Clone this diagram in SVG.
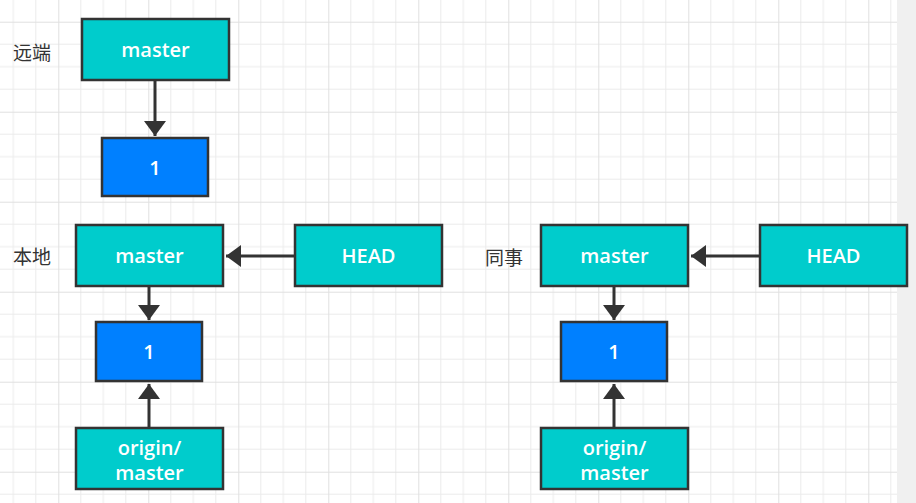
<svg xmlns="http://www.w3.org/2000/svg" width="916" height="503" viewBox="0 0 916 503">
<defs>
<pattern id="grid" x="58.3" y="21.7" width="90" height="90" patternUnits="userSpaceOnUse">
<path d="M22.5 0V90M45 0V90M67.5 0V90M0 22.5H90M0 45H90M0 67.5H90" stroke="#ebebeb" stroke-width="1" fill="none"/>
<path d="M0.5 0V90M0 0.5H90" stroke="#e0e0e0" stroke-width="1" fill="none"/>
</pattern>
<marker id="ah" viewBox="0 0 15 22" refX="15" refY="11" markerWidth="15" markerHeight="22" markerUnits="userSpaceOnUse" orient="auto">
<path d="M0 0L15 11L0 22Z" fill="#333"/>
</marker>
</defs>
<style>
.n{stroke:#333;stroke-width:2.5}
.c{fill:#00CCCC}
.b{fill:#0080FF}
.t{fill:#fff;font-family:"Open Sans","Noto Sans CJK SC",sans-serif;font-size:20px;font-weight:600;text-anchor:middle;dominant-baseline:central}
.l{fill:#333;font-family:"Noto Sans CJK SC",sans-serif;font-size:19px;dominant-baseline:central}
.e{stroke:#333;stroke-width:3;fill:none;marker-end:url(#ah)}
</style>
<rect width="916" height="503" fill="#fff"/>
<rect width="897" height="503" fill="url(#grid)"/>
<rect x="897" y="0" width="19" height="503" fill="#f0f0f0"/>
<text class="l" x="13" y="51">远端</text>
<text class="l" x="13" y="255">本地</text>
<text class="l" x="485" y="256">同事</text>
<g id="connectors">
<path class="e" d="M155 81V136"/>
<path class="e" d="M294 256H226"/>
<path class="e" d="M149 287V320"/>
<path class="e" d="M149 428V384"/>
<path class="e" d="M759 256H691"/>
<path class="e" d="M614 287V320"/>
<path class="e" d="M614 428V384"/>
</g>
<g id="remote-master"><rect class="n c" x="82" y="19" width="147" height="61"/><text class="t" x="155.5" y="49.5">master</text></g>
<g id="remote-1"><rect class="n b" x="102" y="138" width="106" height="58"/><text class="t" x="155" y="167">1</text></g>
<g id="local-master"><rect class="n c" x="76" y="225" width="147" height="61"/><text class="t" x="149.5" y="255.5">master</text></g>
<g id="local-head"><rect class="n c" x="295" y="225" width="147" height="61"/><text class="t" x="368.5" y="255.5">HEAD</text></g>
<g id="local-1"><rect class="n b" x="96" y="322" width="106" height="59"/><text class="t" x="149" y="351.5">1</text></g>
<g id="local-origin"><rect class="n c" x="76" y="428" width="147" height="61"/><text class="t" x="149.5" y="447">origin/</text><text class="t" x="149.5" y="472">master</text></g>
<g id="peer-master"><rect class="n c" x="541" y="225" width="147" height="61"/><text class="t" x="614.5" y="255.5">master</text></g>
<g id="peer-head"><rect class="n c" x="760" y="225" width="147" height="61"/><text class="t" x="833.5" y="255.5">HEAD</text></g>
<g id="peer-1"><rect class="n b" x="561" y="322" width="106" height="59"/><text class="t" x="614" y="351.5">1</text></g>
<g id="peer-origin"><rect class="n c" x="541" y="428" width="147" height="61"/><text class="t" x="614.5" y="447">origin/</text><text class="t" x="614.5" y="472">master</text></g>
</svg>
